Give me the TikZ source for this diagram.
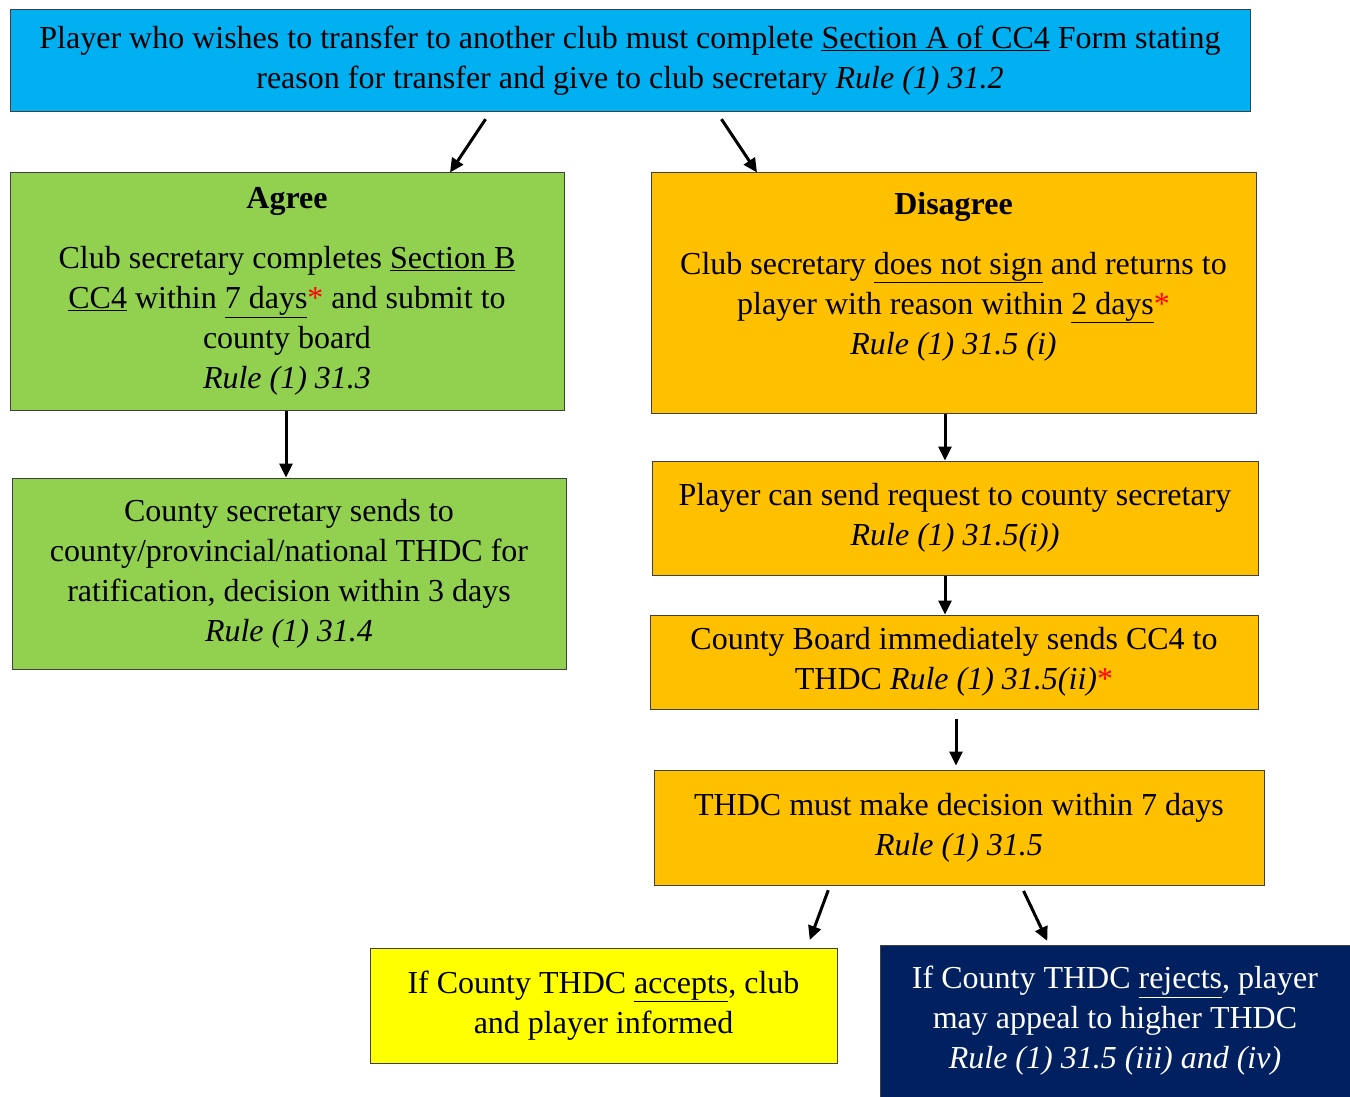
\documentclass[tikz,border=0pt]{standalone}
\usepackage{fontspec}
\setmainfont{Liberation Serif}
\usepackage{xcolor}
\usepackage{tikz}
\usetikzlibrary{arrows.meta}
\usetikzlibrary{positioning}

\definecolor{stepcyan}{HTML}{00B0F0}
\definecolor{stepgreen}{HTML}{92D050}
\definecolor{steporange}{HTML}{FFC000}
\definecolor{stepyellow}{HTML}{FFFF00}
\definecolor{stepnavy}{HTML}{002060}
\definecolor{stepborder}{HTML}{404040}

\newcommand{\redstar}{\textcolor{red}{*}}

\begin{document}
\begin{tikzpicture}[
    x=1pt, y=-1pt,
    every node/.style={rectangle, draw=stepborder, line width=1pt, align=center,
      inner sep=0pt, font=\fontsize{32}{40}\selectfont},
    arrow/.style={line width=3pt, -{Triangle[length=14pt,width=13pt]}},
  ]

  \useasboundingbox (0,0) rectangle (1350,1097);

  \node[fill=stepcyan, minimum width=1240pt, minimum height=102pt] (top) at (630,61)
    {Player who wishes to transfer to another club must complete \underline{Section A of CC4} Form stating\\
     reason for transfer and give to club secretary \textit{Rule (1) 31.2}};
  \node[fill=stepgreen, minimum width=554pt, minimum height=237pt] (agree) at (287,291.5)
    {\textbf{Agree}\\[20pt]
     Club secretary completes \underline{Section B}\\
     \underline{CC4} within \underline{7 days}\redstar{} and submit to\\
     county board\\
     \textit{Rule (1) 31.3}};
  \node[fill=steporange, minimum width=605pt, minimum height=240pt] (disagree) at (953.5,293)
    {\textbf{Disagree}\\[20pt]
     Club secretary \underline{does not sign} and returns to\\
     player with reason within \underline{2 days}\redstar\\
     \textit{Rule (1) 31.5 (i)}\\ \mbox{}};
  \node[fill=stepgreen, minimum width=554pt, minimum height=191pt] (ratify) at (289,573.5)
    {County secretary sends to\\
     county/provincial/national THDC for\\
     ratification, decision within 3 days\\
     \textit{Rule (1) 31.4}};
  \node[fill=steporange, minimum width=606pt, minimum height=114pt] (request) at (955,518)
    {Player can send request to county secretary\\
     \textit{Rule (1) 31.5(i))}};
  \node[fill=steporange, minimum width=608pt, minimum height=94pt] (board) at (954,662)
    {County Board immediately sends CC4 to\\
     THDC \textit{Rule (1) 31.5(ii)}\redstar};
  \node[fill=steporange, minimum width=610pt, minimum height=115pt] (decide) at (959,827.5)
    {THDC must make decision within 7 days\\
     \textit{Rule (1) 31.5}};
  \node[fill=stepyellow, minimum width=467pt, minimum height=115pt] (accept) at (603.5,1005.5)
    {If County THDC \underline{accepts}, club\\
     and player informed};
  \node[fill=stepnavy, text=white, minimum width=470pt, minimum height=152pt] (reject) at (1115,1021)
    {If County THDC \underline{rejects}, player\\
     may appeal to higher THDC\\
     \textit{Rule (1) 31.5 (iii) and (iv)}};

  \draw[arrow, shorten <=8pt] ([xshift=-140pt]top.south) -- ([xshift=163pt]agree.north);
  \draw[arrow, shorten <=8pt] ([xshift=87pt]top.south) -- ([xshift=-196.5pt]disagree.north);
  \draw[arrow] ([xshift=-1pt]agree.south) -- ([xshift=-3pt]ratify.north);
  \draw[arrow] ([xshift=-8.5pt]disagree.south) -- ([xshift=-10pt]request.north);
  \draw[arrow] ([xshift=-10pt]request.south) -- ([xshift=-9pt]board.north);
  \draw[arrow, shorten <=9pt, shorten >=4pt] ([xshift=2pt]board.south) -- ([xshift=-3pt]decide.north);
  \draw[arrow, shorten <=5pt, shorten >=8pt] ([xshift=-129pt]decide.south) -- ([xshift=203.5pt]accept.north);
  \draw[arrow, shorten <=6pt, shorten >=4pt] ([xshift=62pt]decide.south) -- ([xshift=-66pt]reject.north);

\end{tikzpicture}
\end{document}
